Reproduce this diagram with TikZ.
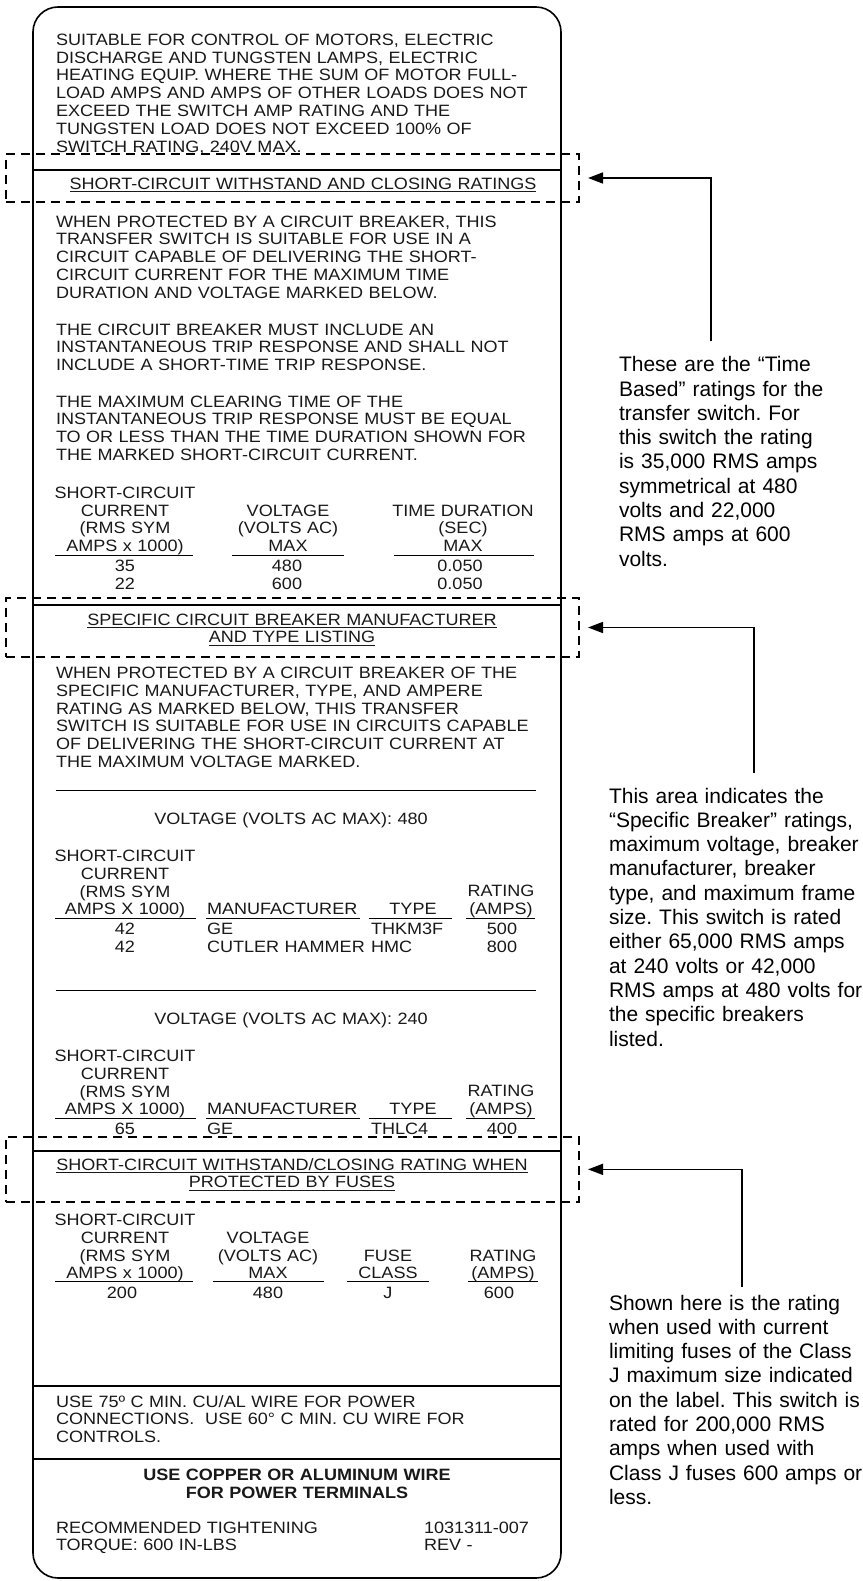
\documentclass[tikz,border=0pt]{standalone}
\usepackage{fontspec}
\setmainfont{Liberation Sans}
\newfontfamily\platefont{Liberation Sans}[FakeStretch=1.1]
\usetikzlibrary{arrows.meta}
\newcommand\underscored[1]{\setbox0=\hbox{#1}\makebox[0pt][l]{\rule[-2.8pt]{\wd0}{1.1pt}}\box0}
\frenchspacing

\begin{document}
\begin{tikzpicture}[x=1pt,y=-1pt]
    \tikzstyle{every node}=[inner sep=0pt,outer sep=0pt]
    \tikzstyle{plate}=[font=\platefont\fontsize{16.4}{17.8}\selectfont,text=black!90]
    \tikzstyle{para}=[plate,anchor=base west,text width=490pt,align=left]
    \tikzstyle{cell}=[plate,anchor=base,text width=170pt,align=center]
    \tikzstyle{heading}=[cell,text width=520pt]
    \tikzstyle{entry}=[plate,anchor=base west]
    \tikzstyle{note}=[font=\fontsize{21}{24.3}\selectfont,anchor=base west,text width=260pt,align=left]
    \tikzstyle{zone}=[draw,line width=1.8pt,dash pattern=on 9pt off 6pt,anchor=north west,minimum width=573pt]
    \tikzstyle{pointer}=[-{Triangle[length=15pt,width=11pt]},line width=1.6pt,shorten >=9pt]
    \def\lx{33}
    \def\rx{561}
    \useasboundingbox (0,0) rectangle (862,1581);
    \fill[white] (0,0) rectangle (862,1581);
    % Draw the label, its dividers and the table rules
    \draw[line width=1.6pt,rounded corners=25pt] (\lx,7) rectangle (\rx,1578);
    \foreach \y in {170,605,1150.7,1386,1459}
      \draw[line width=2pt] (\lx,\y) -- (\rx,\y);
    \foreach \y in {790.7,990.7}
      \draw[line width=1.4pt] (55.5,\y) -- (536,\y);
    \foreach \a/\b in {55/193,232/344,394/534}
      \draw[line width=1pt] (\a,555.5) -- (\b,555.5);
    \foreach \y in {918,1118}
      \foreach \a/\b in {55/196,206/360,368.5/451.6,466/535}
        \draw[line width=1pt] (\a,\y) -- (\b,\y);
    \foreach \a/\b in {55/193,213/324,347/429,468/538}
      \draw[line width=1pt] (\a,1281.5) -- (\b,1281.5);
    % Top section
    \node[para] (loads) at (56,45.3) {SUITABLE FOR CONTROL OF MOTORS, ELECTRIC\\
      DISCHARGE AND TUNGSTEN LAMPS, ELECTRIC\\
      HEATING EQUIP. WHERE THE SUM OF MOTOR FULL-\\
      LOAD AMPS AND AMPS OF OTHER LOADS DOES NOT\\
      EXCEED THE SWITCH AMP RATING AND THE\\
      TUNGSTEN LOAD DOES NOT EXCEED 100\% OF\\
      SWITCH RATING, 240V MAX.};
    \node[heading] (withstand) at (303,189.5) {\underscored{SHORT-CIRCUIT WITHSTAND AND CLOSING RATINGS}};
    \node[para] (breaker) at (56,227) {WHEN PROTECTED BY A CIRCUIT BREAKER, THIS\\
      TRANSFER SWITCH IS SUITABLE FOR USE IN A\\
      CIRCUIT CAPABLE OF DELIVERING THE SHORT-\\
      CIRCUIT CURRENT FOR THE MAXIMUM TIME\\
      DURATION AND VOLTAGE MARKED BELOW.};
    \node[para] (trip) at (56,335) {THE CIRCUIT BREAKER MUST INCLUDE AN\\
      INSTANTANEOUS TRIP RESPONSE AND SHALL NOT\\
      INCLUDE A SHORT-TIME TRIP RESPONSE.};
    \node[para] (clearing) at (56,407) {THE MAXIMUM CLEARING TIME OF THE\\
      INSTANTANEOUS TRIP RESPONSE MUST BE EQUAL\\
      TO OR LESS THAN THE TIME DURATION SHOWN FOR\\
      THE MARKED SHORT-CIRCUIT CURRENT.};
    % Time based table
    \node[cell] (tcurrent) at (125,498.3) {SHORT-CIRCUIT\\CURRENT\\(RMS SYM\\AMPS x 1000)};
    \node[cell] (tvoltage) at (288,516.1) {VOLTAGE\\(VOLTS AC)\\MAX};
    \node[cell] (tduration) at (463,516.1) {TIME DURATION\\(SEC)\\MAX};
    \node[cell] (tamps) at (125,571.5) {35\\22};
    \node[cell] (tvolts) at (287,571.5) {480\\600};
    \node[cell] (tsec) at (460,571.5) {0.050\\0.050};
    % Specific breaker section
    \node[heading] (specific) at (292,625) {\underscored{SPECIFIC CIRCUIT BREAKER MANUFACTURER}\\\underscored{AND TYPE LISTING}};
    \node[para] (maker) at (56,678.5) {WHEN PROTECTED BY A CIRCUIT BREAKER OF THE\\
      SPECIFIC MANUFACTURER, TYPE, AND AMPERE\\
      RATING AS MARKED BELOW, THIS TRANSFER\\
      SWITCH IS SUITABLE FOR USE IN CIRCUITS CAPABLE\\
      OF DELIVERING THE SHORT-CIRCUIT CURRENT AT\\
      THE MAXIMUM VOLTAGE MARKED.};
    \node[heading] (volt480) at (291,824.5) {VOLTAGE (VOLTS AC MAX): 480};
    \node[cell] (bcurrent) at (125,861.5) {SHORT-CIRCUIT\\CURRENT\\(RMS SYM\\AMPS X 1000)};
    \node[entry] (bmaker) at (207,914.6) {MANUFACTURER};
    \node[cell] (btype) at (413,914.6) {TYPE};
    \node[cell] (brating) at (501,896.9) {RATING\\(AMPS)};
    \node[cell] (bamps) at (125,934.3) {42\\42};
    \node[para] (bnames) at (207,934.3) {GE\\CUTLER HAMMER};
    \node[para] (btypes) at (371,934.3) {THKM3F\\HMC};
    \node[cell] (bframe) at (502,934.3) {500\\800};
    \node[heading] (volt240) at (291,1024.4) {VOLTAGE (VOLTS AC MAX): 240};
    \node[cell] (ccurrent) at (125,1061.4) {SHORT-CIRCUIT\\CURRENT\\(RMS SYM\\AMPS X 1000)};
    \node[entry] (cmaker) at (207,1114.5) {MANUFACTURER};
    \node[cell] (ctype) at (413,1114.5) {TYPE};
    \node[cell] (crating) at (501,1096.8) {RATING\\(AMPS)};
    \node[cell] (camps) at (125,1134.2) {65};
    \node[entry] (cname) at (207,1134.2) {GE};
    \node[entry] (ctypes) at (371,1134.2) {THLC4};
    \node[cell] (cframe) at (502,1134.2) {400};
    % Fuse section
    \node[heading] (fuses) at (292,1170) {\underscored{SHORT-CIRCUIT WITHSTAND/CLOSING RATING WHEN}\\\underscored{PROTECTED BY FUSES}};
    \node[cell] (fcurrent) at (125,1225.5) {SHORT-CIRCUIT\\CURRENT\\(RMS SYM\\AMPS x 1000)};
    \node[cell] (fvoltage) at (268,1243.3) {VOLTAGE\\(VOLTS AC)\\MAX};
    \node[cell] (fclass) at (388,1261) {FUSE\\CLASS};
    \node[cell] (frating) at (503,1261) {RATING\\(AMPS)};
    \node[cell] (famps) at (122,1298) {200};
    \node[cell] (fvolts) at (268,1298) {480};
    \node[cell] (fj) at (388,1298) {J};
    \node[cell] (fframe) at (499,1298) {600};
    % Wiring section
    \node[para] (wire) at (56,1407) {USE 75º C MIN. CU/AL WIRE FOR POWER\\
      CONNECTIONS.\ \ USE 60° C MIN. CU WIRE FOR\\
      CONTROLS.};
    \node[heading,font=\platefont\bfseries\fontsize{16.4}{18.5}\selectfont] (copper) at (297,1480) {USE COPPER OR ALUMINUM WIRE\\FOR POWER TERMINALS};
    \node[para] (torque) at (56,1533) {RECOMMENDED TIGHTENING\\TORQUE: 600 IN-LBS};
    \node[para] (partno) at (424,1533) {1031311-007\\REV -};
    % Dashed zones and the notes that point at them
    \node[zone,minimum height=48pt] (timezone) at (6,154) {};
    \node[zone,minimum height=59pt] (breakerzone) at (6,598) {};
    \node[zone,minimum height=65.3pt] (fusezone) at (6,1136.7) {};
    \node[note] (timenote) at (619,371.7) {These are the “Time\\
      Based” ratings for the\\
      transfer switch. For\\
      this switch the rating\\
      is 35,000 RMS amps\\
      symmetrical at 480\\
      volts and 22,000\\
      RMS amps at 600\\
      volts.};
    \node[note] (breakernote) at (609,803) {This area indicates the\\
      “Specific Breaker” ratings,\\
      maximum voltage, breaker\\
      manufacturer, breaker\\
      type, and maximum frame\\
      size. This switch is rated\\
      either 65,000 RMS amps\\
      at 240 volts or 42,000\\
      RMS amps at 480 volts for\\
      the specific breakers\\
      listed.};
    \node[note] (fusenote) at (609,1310) {Shown here is the rating\\
      when used with current\\
      limiting fuses of the Class\\
      J maximum size indicated\\
      on the label. This switch is\\
      rated for 200,000 RMS\\
      amps when used with\\
      Class J fuses 600 amps or\\
      less.};
    \draw[pointer] ([shift={(92pt,15pt)}]timenote.north west) |- (timezone.east);
    \draw[pointer] ([shift={(145pt,15pt)}]breakernote.north west) |- (breakerzone.east);
    \draw[pointer] ([shift={(133pt,8pt)}]fusenote.north west) |- (fusezone.east);
\end{tikzpicture}
\end{document}
